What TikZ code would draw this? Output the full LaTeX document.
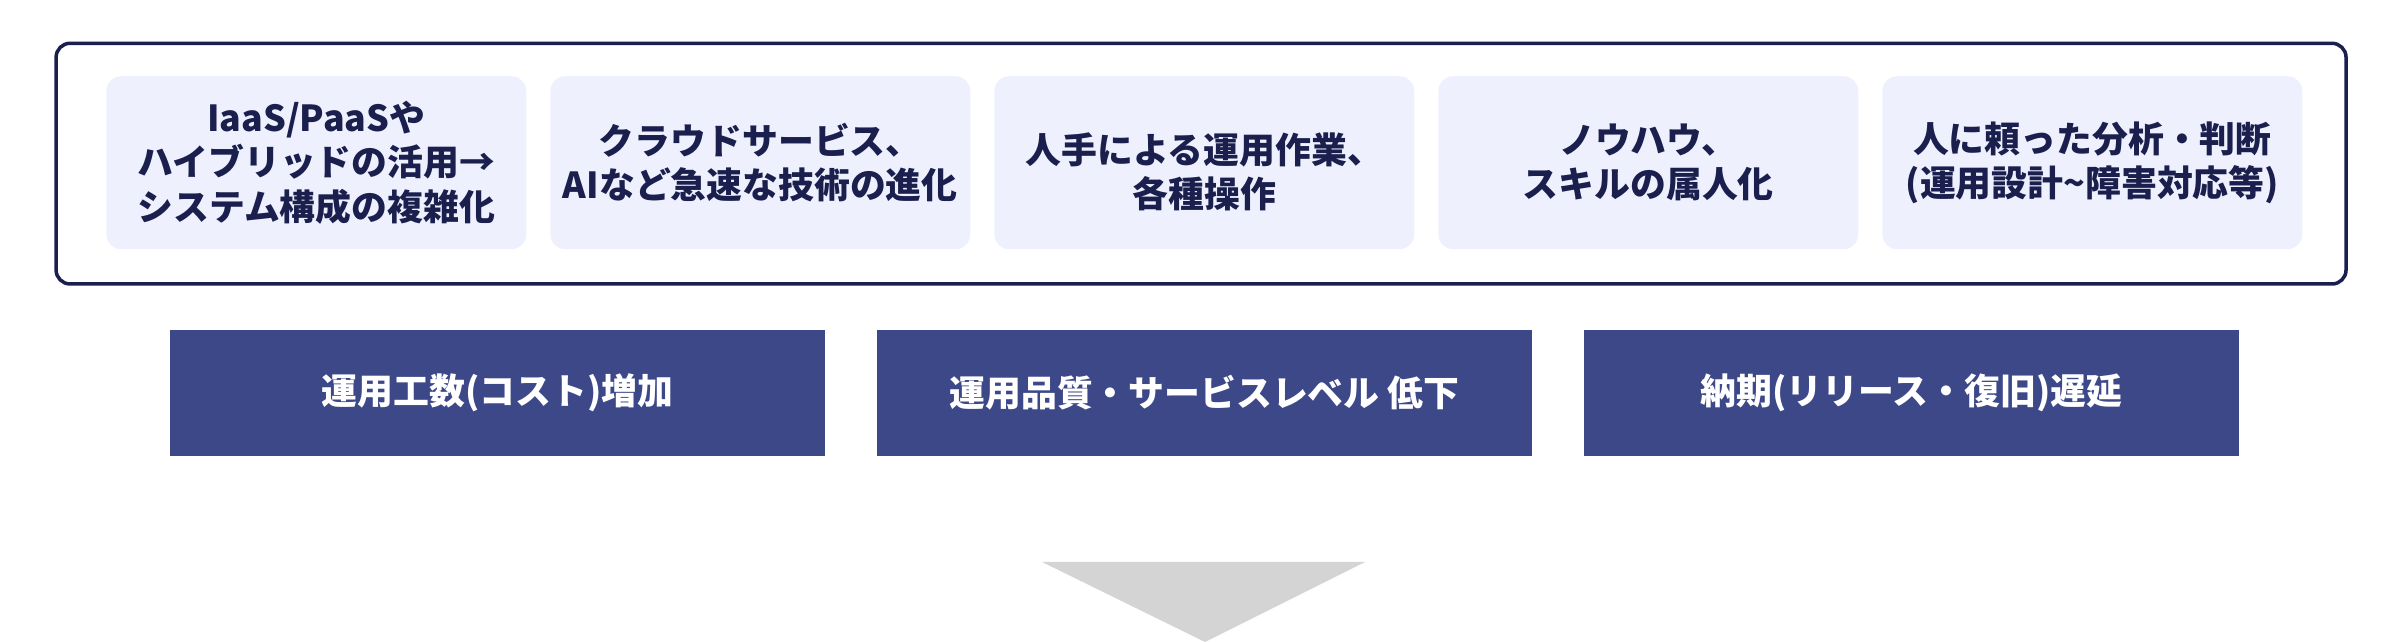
\documentclass[tikz,border=0pt]{standalone}
\usepackage{fontspec}
\setmainfont{Noto Sans CJK JP}
\usetikzlibrary{positioning}

\definecolor{navy}{HTML}{1A1F4D}
\definecolor{paleblue}{HTML}{EEF1FD}
\definecolor{bandblue}{HTML}{3D4889}
\definecolor{arrowgray}{HTML}{D4D4D4}

\begin{document}
\begin{tikzpicture}[node distance=4.44cm,
                    font=\bfseries\fontsize{10.2}{12.6}\selectfont]

  \tikzstyle{cause}=[rectangle,fill=paleblue,rounded corners=0.15cm,text=navy,
                     minimum width=4.2cm,minimum height=1.73cm,align=center,inner sep=0pt]
  \tikzstyle{lowtext}=[align=center,text=navy,yshift=-0.09cm]
  \tikzstyle{effect}=[rectangle,fill=bandblue,text=white,
                      minimum width=6.55cm,minimum height=1.26cm,align=center,inner sep=0pt]

  \useasboundingbox (0,0) rectangle (24,-6.42);

  % outer frame
  \draw[navy,line width=1pt,rounded corners=0.14cm] (0.561,-0.433) rectangle (23.46,-2.84);

  \node[cause] (IP) at (3.163,-1.627) {IaaS/PaaSや\\ハイブリッドの活用→\\システム構成の複雑化};
  \node[cause] (CS) [right of=IP] {クラウドサービス、\\AIなど急速な技術の進化};
  \node[cause,label={[lowtext]center:{人手による運用作業、\\各種操作}}] (MW) [right of=CS] {};
  \node[cause] (KH) [right of=MW] {ノウハウ、\\スキルの属人化};
  \node[cause] (JD) [right of=KH] {人に頼った分析・判断\\(運用設計\textasciitilde 障害対応等)};

  \node[effect] (CO) at (4.975,-3.929)                     {運用工数(コスト)増加};
  \node[effect] (QL) [right of=CO,node distance=7.07cm] {運用品質・サービスレベル 低下};
  \node[effect] (DL) [right of=QL,node distance=7.07cm] {納期(リリース・復旧)遅延};

  \fill[arrowgray] (10.42,-5.62) -- (13.65,-5.62) -- (12.05,-6.42) -- cycle;
\end{tikzpicture}
\end{document}
